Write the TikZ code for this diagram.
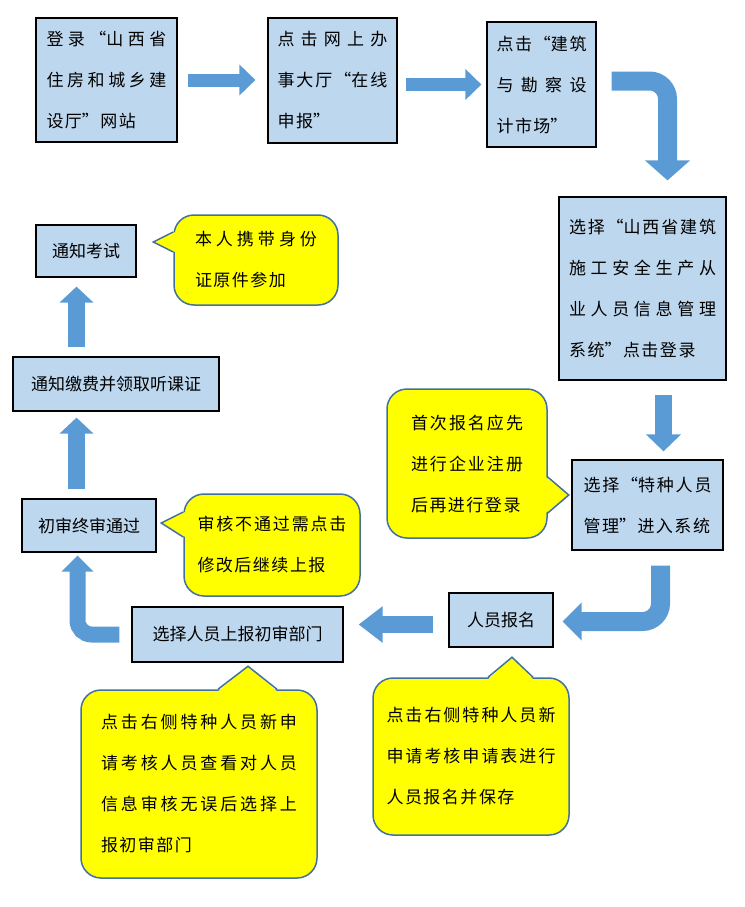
\documentclass[tikz,border=0pt]{standalone}
\usepackage{fontspec}
\setmainfont{Noto Sans CJK SC}[RawFeature=+fwid]
\usetikzlibrary{arrows.meta}
\XeTeXlinebreaklocale "zh"
\XeTeXlinebreakskip=1.5pt plus 20pt
\setlength{\parindent}{0pt}
\definecolor{boxblue}{HTML}{BDD7EE}
\definecolor{arrowblue}{HTML}{5B9BD5}
\definecolor{tipedge}{HTML}{41719C}
\definecolor{tipyellow}{HTML}{FFFF00}
\begin{document}
\begin{tikzpicture}[x=1pt, y=-1pt, font=\fontsize{17}{41}\selectfont,
  box/.style={draw, line width=1.2pt, fill=boxblue, inner sep=0pt},
  para/.style={align=justify, text width=#1},
  note/.style={draw=tipedge, line width=1.5pt, fill=tipyellow, rounded corners=20pt, inner sep=0pt},
  flatarrow/.style={draw=arrowblue, line width=13pt, -{Triangle[width=30pt,length=16pt]}},
  fatarrow/.style={draw=arrowblue, line width=17pt, -{Triangle[width=34pt,length=20pt]}}]
\useasboundingbox (0,0) rectangle (744,907);
\node[box, minimum width=141pt, minimum height=124pt, para=120pt] (denglu) at (106.5,80) {登录“山西省\linebreak 住房和城乡建\linebreak 设厅”网站};
\node[box, minimum width=129pt, minimum height=125pt, para=110pt] (dating) at (332.5,80.5) {点击网上办\linebreak 事大厅“在线\linebreak 申报”};
\node[box, minimum width=109pt, minimum height=125pt, para=90pt] (shichang) at (541.5,84.5) {点击“建筑\linebreak 与勘察设\linebreak 计市场”};
\node[box, minimum width=167pt, minimum height=183pt, para=147pt] (xitong) at (642.5,288.5) {选择“山西省建筑\linebreak 施工安全生产从\linebreak 业人员信息管理\linebreak 系统”点击登录};
\node[box, minimum width=151pt, minimum height=90pt, para=128pt] (tezhong) at (647.5,505) {选择“特种人员\linebreak 管理”进入系统};
\node[box, minimum width=104pt, minimum height=54pt] (baoming) at (501,620) {人员报名};
\node[box, minimum width=211pt, minimum height=55pt] (shangbao) at (237.5,634.5) {选择人员上报初审部门};
\node[box, minimum width=134pt, minimum height=53pt] (tongguo) at (89,525.5) {初审终审通过};
\node[box, minimum width=206pt, minimum height=54pt] (jiaofei) at (116,384) {通知缴费并领取听课证};
\node[box, minimum width=100pt, minimum height=52pt] (kaoshi) at (86,251) {通知考试};

\node[note, minimum width=164pt, minimum height=90pt, para=122pt] (shenfen) at (256,260) {本人携带身份\linebreak 证原件参加};
\node[note, minimum width=160pt, minimum height=149pt, para=112pt] (zhuce) at (467,463.5) {首次报名应先\linebreak 进行企业注册\linebreak 后再进行登录};
\node[note, minimum width=176pt, minimum height=102pt, para=149pt] (xiugai) at (272,545) {审核不通过需点击\linebreak 修改后继续上报};
\node[note, minimum width=196pt, minimum height=157pt, para=169pt] (baocun) at (471,756.5) {点击右侧特种人员新\linebreak 申请考核申请表进行\linebreak 人员报名并保存};
\node[note, minimum width=236pt, minimum height=188pt, para=196pt] (chakan) at (199,784) {点击右侧特种人员新申\linebreak 请考核人员查看对人员\linebreak 信息审核无误后选择上\linebreak 报初审部门};

\fill[tipyellow] ([xshift=2pt,yshift=28pt]shenfen.west) -- ([xshift=-20pt,yshift=18pt]shenfen.west) -- ([xshift=2pt,yshift=8pt]shenfen.west) -- cycle;
\draw[tipedge, line width=1.5pt] ([yshift=28pt]shenfen.west) -- ([xshift=-20pt,yshift=18pt]shenfen.west) -- ([yshift=8pt]shenfen.west);
\fill[tipyellow] ([xshift=-2pt,yshift=-13.5pt]zhuce.east) -- ([xshift=21pt,yshift=-31.5pt]zhuce.east) -- ([xshift=-2pt,yshift=-49.5pt]zhuce.east) -- cycle;
\draw[tipedge, line width=1.5pt] ([yshift=-13.5pt]zhuce.east) -- ([xshift=21pt,yshift=-31.5pt]zhuce.east) -- ([yshift=-49.5pt]zhuce.east);
\fill[tipyellow] ([xshift=2pt,yshift=33pt]xiugai.west) -- ([xshift=-22pt,yshift=22pt]xiugai.west) -- ([xshift=2pt,yshift=8pt]xiugai.west) -- cycle;
\draw[tipedge, line width=1.5pt] ([yshift=33pt]xiugai.west) -- ([xshift=-22pt,yshift=22pt]xiugai.west) -- ([yshift=8pt]xiugai.west);
\fill[tipyellow] ([xshift=17pt,yshift=-2pt]baocun.north) -- ([xshift=41pt,yshift=20pt]baocun.north) -- ([xshift=62pt,yshift=-2pt]baocun.north) -- cycle;
\draw[tipedge, line width=1.5pt] ([xshift=17pt]baocun.north) -- ([xshift=41pt,yshift=20pt]baocun.north) -- ([xshift=62pt]baocun.north);
\fill[tipyellow] ([xshift=19pt,yshift=-2pt]chakan.north) -- ([xshift=49pt,yshift=23pt]chakan.north) -- ([xshift=78pt,yshift=-2pt]chakan.north) -- cycle;
\draw[tipedge, line width=1.5pt] ([xshift=19pt]chakan.north) -- ([xshift=49pt,yshift=23pt]chakan.north) -- ([xshift=78pt]chakan.north);

\draw[flatarrow, shorten <=10pt, shorten >=12pt] (denglu.east) -- (denglu.east -| dating.west);
\draw[flatarrow, shorten <=8pt, shorten >=5pt] (dating.east |- shichang.west) -- (shichang.west);
\draw[fatarrow, line width=19pt, -{Triangle[width=44pt,length=20pt]}, rounded corners=18pt] ([xshift=15pt,yshift=3.5pt]shichang.east) -| ([xshift=25pt,yshift=16pt]xitong.north);
\draw[fatarrow, -{Triangle[width=34pt,length=17pt]}] ([xshift=21pt,yshift=-14pt]xitong.south) -- ([xshift=16pt,yshift=8pt]tezhong.north);
\draw[fatarrow, line width=19pt, -{Triangle[width=37pt,length=19pt]}, rounded corners=18pt] ([xshift=13pt,yshift=-15pt]tezhong.south) |- ([xshift=9pt,yshift=-1.5pt]baoming.east);
\draw[fatarrow, -{Triangle[width=35pt,length=24pt]}] ([xshift=-15pt,yshift=-4.5pt]baoming.west) -- ([xshift=15pt,yshift=10pt]shangbao.east);
\draw[fatarrow, line width=16pt, -{Triangle[width=31pt,length=16pt]}, rounded corners=14pt] ([xshift=-12pt]shangbao.west) -| ([xshift=-11.5pt,yshift=-3pt]tongguo.south);
\draw[fatarrow, -{Triangle[width=33pt,length=16pt]}] ([xshift=-12.5pt,yshift=9pt]tongguo.north) -- ([xshift=-39.5pt,yshift=-6pt]jiaofei.south);
\draw[fatarrow, -{Triangle[width=33pt,length=16pt]}] ([xshift=-39.5pt,yshift=9pt]jiaofei.north) -- ([xshift=-9.5pt,yshift=-9pt]kaoshi.south);
\end{tikzpicture}
\end{document}
